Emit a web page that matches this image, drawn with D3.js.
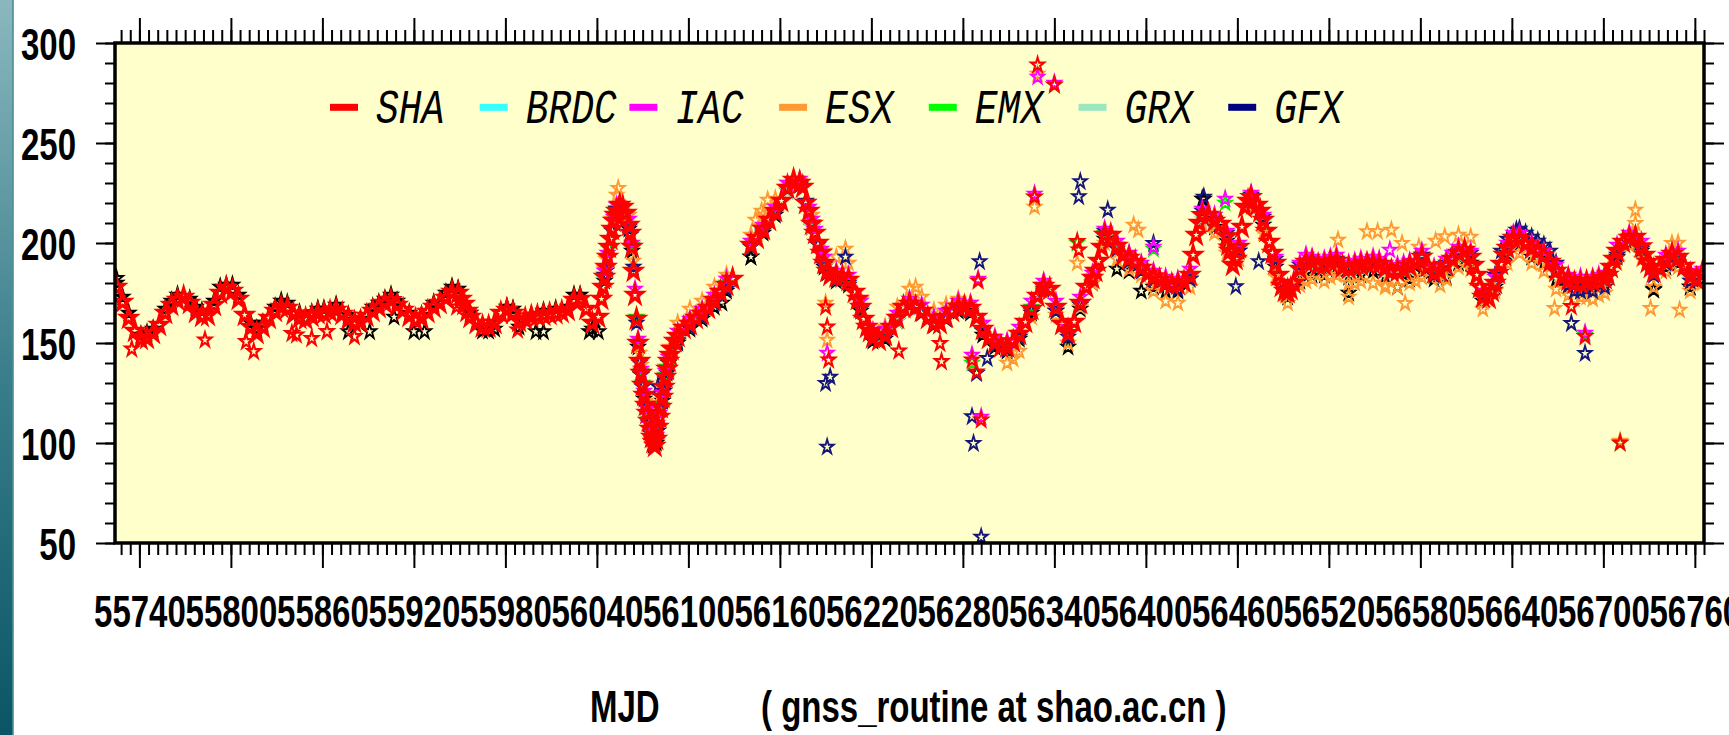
<!DOCTYPE html>
<html>
<head>
<meta charset="utf-8">
<script src="https://cdn.jsdelivr.net/npm/d3@7/dist/d3.min.js"></script>
<style>
html,body{margin:0;padding:0;background:#ffffff;overflow:hidden;}
svg{display:block;}
</style>
</head>
<body>
<svg id="chart" width="1729" height="735"></svg>
<script>
// ================= DATA =================
const seriesNames   = ["SHA", "BRDC", "IAC", "ESX", "EMX", "GRX", "GFX"];
const legendColors  = ["#ff0000", "#33ffff", "#ff00ff", "#ff9933", "#00ff00", "#99e6bf", "#000080"];
const markerColors  = ["#ff0000", "#000000", "#ff00ff", "#ff9933", "#00ee00", "#99e6bf", "#16167a"];

const xMajorTicks = [55740,55800,55860,55920,55980,56040,56100,56160,56220,56280,56340,56400,56460,56520,56580,56640,56700,56760];
const xTickLabels = ["55740","55800","55860","55920","55980","56040","56100","56160","56220","56280","56340","56400","56460","56520","56580","56640","56700","56760"];
const yMajorTicks = [50,100,150,200,250,300];
const yTickLabels = ["50","100","150","200","250","300"];

// SHA: value every 4 days (MJD 55725 ... 56765)
const shaDays = d3.range(55725, 56766, 4);
const shaVals = [
 178,170.5,162.5,156,152,152.5,155,159,165,169,171.5,173,170,165.5,163.5,164,169,175,177.5,176,
 172,164,158,155,158,162.5,166,168,167.5,164.5,162.5,162,163.5,164.8,164.8,165.7,166.5,164.5,162,160.3,
 160.5,163.5,166,168,170,171.3,169,166.5,163.5,161.5,162.5,165.5,168,170,172.5,175.5,175,169.5,163,160,
 158.2,158.2,160,165,166.5,
 165,161,162,163.2,163.5,164,164.5,164.8,165.5,166.5,171.5,172,167,160,163,183,202,216,218,209,
 174,135,115,100.5,113,133,147,153.5,157.5,159.5,162.5,164.5,167.5,171.5,175.5,179,182,null,null,199,
 202.5,207,211.5,216,221,227.5,231.5,230,220,209.5,200,190,184,183.2,183.2,181.5,175.5,168,158,152.8,
 151.5,154,158,162.5,168,
 169.5,168,166,162.5,159.8,159.8,163,166,168,168.2,167.5,163,157,152.5,150.2,148.2,148.2,150.7,154.5,160.5,
 167,173.5,178.5,177,168,159.5,154.8,160.5,170,178,182.5,191,204,204,198.5,194,192.5,190.5,187.5,184.6,
 183.2,181.5,180,179.2,179.5,180.5,184,204,213.8,214,211,209.5,203.2,189,198,218,222.8,219,211.5,200.5,
 190,178.5,175.5,180,
 187,190.5,190.5,189,189,190.3,191,188,187.3,188.2,189,189.7,189.8,189.3,187.5,186,186,186.8,188.5,190,
 193,188.5,185.2,186,188.8,192,195,196.5,193,184,173,172.5,180,189.5,197.5,202.5,202,199.5,197.3,195.8,
 193.7,190.5,186,183,181.5,180,179.8,180.5,180.7,181.2,182.3,188,196,200.5,202.5,203,198.2,190.5,185.5,187.5,
 191.5,194.5,193,188.5,183.5,182,185
];
// extra SHA daily readings on the steep parts
const shaFill = [[56043,172],[56044,178],[56046,188],[56047,193],[56048,198],[56050,207],[56051,211],[56052,214],[56055,219],[56059,215],
 [56062,205],[56063,198],[56064,186],[56066,162],[56067,150],[56068,141],[56070,129],[56071,124],[56072,119],[56074,111],[56075,107],
 [56076,103],[56078,98.5],[56079,102],[56080,108],[56082,118],[56083,123],[56084,128],[56086,137],[56087,141],[56088,144],[56091,151],
 [56175,228],[56179,216],[56183,205],[56187,195],[56191,186],[56211,172],[56215,162],[56219,156],[56367,186],[56371,198],[56431,194],
 [56435,210],[56455,196],[56459,192],[56463,208],[56467,221],[56475,216],[56479,206],[56483,195],[56487,184],[56491,176],[56495,177],
 [56615,189],[56619,178],[56627,176],[56631,185],[56635,194],[56703,184],[56707,192],[56727,194],[56731,188],[55951,172],[55955,166]];
const shaOut = [[55735,147],[55783,151.5],[55810,150.7],[55815,145.7],[55840,154.8],[55843,154],[55853,152.3],[55863,155.7],[55881,153.2],
 [55948,168],[55988,156.5],[56190,168],[56191,158],[56192,141.5],[56238,146],[56266,140.7],[56265,149.8],[56286,141.5],[56289,135.5],
 [56292,111.5],[56290,181],[56329,289],[56340,279],[56327,223],[56355,200.7],[56356,196.5],[56453,198],[56679,168.2],[56688,153.2],[56711,100]];

// BRDC: every 8 days (MJD 55725 ... 56765)
const brdcDays = d3.range(55725, 56766, 8);
const brdcVals = [
 180,165,154,157,167,174,172,166,171,179,174,160,160,168,170,165,165,167,169,164,
 162,168,172,171,165,164,170,175,177,165,156,157,168,158,164,166,167,168,174,157,
 181,217,207,134,99,131,150,157,162,168,176,null,193,205,214,226,229,208,188,181,
 179,166,151,152,161,168,165,159,162,166,165,154,148,146,152,165,176,166,148,167,
 180,202,187,186,176,178,176,176,182,222,208,201,196,221,209,188,173,181,184,184,
 187,183,184,186,183,178,182,186,182,183,190,190,171,178,195,200,193,190,182,178,
 176,177,180,193,200,196,177,188,190,178,182
];
const brdcOut = [[55725,182.3],[55877,155.7],[55891,155.7],[55920,155.7],[55927,155.7],[55907,163],[56000,155.7],[56005,155.7],
 [56035,155.7],[56041,155.7],[56141,193],[56122,170],[56438,222],[56733,176.5],[56757,178],[56533,175],
 [56063,196],[56067,148],[56071,122],[56075,105],[56079,100],[56083,121],[56087,140],
 [55729,173],[55745,155],[55761,171],[55777,168],[55793,178],[55801,179],[55817,157],[55833,171],[55857,167],[55897,170],[55905,174],[55945,178],[55969,156],[55985,167],[56025,174]];

// analysis centres: every 8 days (MJD 56045 ... 56765)
const acDays = d3.range(56045, 56766, 8);
const iacVals = [
 186,219,212,137,102,136,156,162,167,174,182,null,201,209,218,230,232,212,193,186,
 184,171,156,157,165,172,169,163,166,171,170,160,153,151,158,171,181,171,158,173,
 185,207,201,195,190,186,183,182,187,217,214,206,200,225,214,193,178,190,193,192,
 194,190,192,193,190,189,191,196,188,192,198,196,176,183,200,205,200,196,189,184,
 183,183,185,199,205,201,188,194,196,186,187
];
const iacOut = [[56329,283],[56340,280],[56327,224.5],[56191,145],[56286,144],[56292,113],[56290,182],[56405,198],[56452,222],[56560,196.5],[56688,155],
 [56063,200],[56065,177],[56067,152],[56071,126],[56073,117],[56075,109],[56079,104],[56081,115],[56083,125],[56087,143],[56047,195],[56051,213],
 [56179,218],[56183,207],[56187,197],[56505,194],[56521,193],[56537,191],[56553,192],[56569,190],[56601,195],[56641,205],[56697,184]];
const esxVals = [
 187,224,214,139,103,138,160,167,171,178,184,null,204,214,222,230,231,214,196,193,
 190,172,156,158,168,177,173,166,169,172,170,160,149,140,146,163,176,164,150,168,
 180,200,192,187,184,176,171,170,178,210,205,195,192,218,205,183,170,179,182,181,
 184,180,181,180,178,178,180,183,184,182,188,187,167,176,190,195,190,186,177,174,
 173,172,175,190,199,192,178,186,188,176,180
];
const esxOut = [[56054,227.3],[56144,211.5],[56148,216],[56152,221.5],[56080,120],[56190,170],[56191,151.5],[56203,197],[56329,284.5],[56327,218],
 [56355,190],[56392,209],[56395,206.5],[56526,201.5],[56545,205.7],[56552,205.7],[56561,206.5],[56568,199.8],[56579,198],[56590,201],[56596,203.2],
 [56605,204],[56613,203],[56721,216.5],[56721,209.8],[56745,199.8],[56749,200],[56533,173],[56570,169.8],[56668,167.3],[56731,167.3],[56750,166.5],
 [56711,101],[56064,191],[56068,145],[56072,121],[56076,105],[56080,110],[56084,130],[56088,148],[56046,192],[56050,212],
 [56505,181],[56521,183],[56537,180],[56557,179],[56577,181],[56593,179],[56681,172],[56689,173],[56697,174],[56249,178],[56313,142]];
const emxVals = [
 183,215,209,136,100,134,153,160,165,172,180,null,199,207,216,228,230,210,190,183,
 182,168,153,154,163,170,166,160,163,168,167,157,150,148,155,168,179,168,155,170,
 183,205,199,193,188,183,180,180,184,214,212,204,198,223,212,190,176,187,191,189,
 191,187,189,190,188,186,189,194,185,189,195,193,173,180,198,202,197,194,186,181,
 180,181,182,196,203,198,186,191,193,183,185
];
const emxOut = [[56340,279],[56327,223],[56355,200],[56405,197],[56452,220],[56286,140],[56688,154],[56711,100],
 [56063,199],[56066,163],[56070,130],[56074,112],[56078,99],[56082,119],[56086,138],[56048,197],[56181,210]];
const grxVals = [
 182,214,208,134,100,132,152,158,163,170,178,null,198,206,215,226,229,208,189,182,
 180,167,152,153,161,168,165,159,162,167,166,156,149,147,153,166,177,167,154,169,
 181,203,197,191,186,182,179,178,183,212,210,202,197,221,210,189,175,186,189,188,
 190,186,188,189,186,185,187,192,184,188,194,192,172,179,196,201,196,193,185,180,
 179,180,181,195,201,197,184,190,192,182,184
];
const grxOut = [];
const gfxVals = [
 184,217,208,134,99,132,151,158,163,170,177,null,198,206,215,227,229,210,189,182,
 180,167,152,153,162,169,165,159,162,167,166,156,149,147,153,166,177,166,153,169,
 182,206,197,191,186,182,179,177,182,216,212,205,196,224,213,192,177,189,192,190,
 192,188,190,191,188,186,188,194,184,190,196,195,174,184,202,207,203,199,190,179,
 176,176,178,194,203,197,184,190,192,181,184
];
const gfxOut = [[56080,128.2],[56190,129.8],[56193,133],[56191,98],[56203,193],[56291,190.7],[56286,113.2],[56287,99.8],[56292,53],[56289,134.8],
 [56296,142.3],[56357,230.7],[56356,223.2],[56375,216.5],[56405,199.8],[56438,223],[56459,178.2],[56474,190.7],[56643,206.5],[56679,159.8],[56688,144.8],
 [56062,204],[56064,188],[56066,160],[56068,140],[56070,128],[56072,118],[56074,110],[56076,102],[56080,106],[56082,117],[56084,126],[56086,135],
 [56046,186],[56050,206],[56177,221],[56185,199],[56191,185],[56633,196],[56649,205],[56657,201],[56665,196],[56681,176],[56689,177]];

// ================= LAYOUT =================
const W = 1729, H = 735;
const PL = 115, PR = 1704, PT = 43, PB = 543;
const NUM_FONT = "'Liberation Sans', Arial, Helvetica, sans-serif";
const LEG_FONT = "'Liberation Mono', 'DejaVu Sans Mono', monospace";
const VSTRETCH = 1.37;

const svg = d3.select("#chart");
const defs = svg.append("defs");

// left decorative strip
const grad = defs.append("linearGradient").attr("id","strip").attr("x1",0).attr("x2",0).attr("y1",0).attr("y2",1);
grad.append("stop").attr("offset","0%").attr("stop-color","#8ab8be");
grad.append("stop").attr("offset","50%").attr("stop-color","#3b7f8c");
grad.append("stop").attr("offset","100%").attr("stop-color","#0a5565");
svg.append("rect").attr("x",0).attr("y",0).attr("width",13).attr("height",H).attr("fill","url(#strip)");
svg.append("rect").attr("x",12).attr("y",0).attr("width",2).attr("height",H).attr("fill","#4d8c99").attr("opacity",0.8);

defs.append("clipPath").attr("id","plotclip").append("rect")
  .attr("x",PL).attr("y",PT).attr("width",PR-PL).attr("height",PB-PT);

const x = d3.scaleLinear().domain([55724, 56766]).range([PL, PR]);
const y = d3.scaleLinear().domain([50, 300]).range([PB, PT]);

// plot background
svg.append("rect").attr("x",PL).attr("y",PT).attr("width",PR-PL).attr("height",PB-PT).attr("fill","#ffffcc");

// ----- series -----
function pts(days, vals, extra){
  const p = [];
  days.forEach((d,i)=>{ if (vals[i] !== null && vals[i] !== undefined) p.push([d, vals[i]]); });
  return p.concat(extra);
}
const seriesDefs = [
  {name:"BRDC", points: pts(brdcDays, brdcVals, brdcOut), color: markerColors[1], size:52, sw:1.8},
  {name:"GRX",  points: pts(acDays, grxVals, grxOut),     color: markerColors[5], size:52, sw:1.8},
  {name:"ESX",  points: pts(acDays, esxVals, esxOut),     color: markerColors[3], size:52, sw:1.8},
  {name:"EMX",  points: pts(acDays, emxVals, emxOut),     color: markerColors[4], size:52, sw:1.8},
  {name:"GFX",  points: pts(acDays, gfxVals, gfxOut),     color: markerColors[6], size:52, sw:1.8},
  {name:"IAC",  points: pts(acDays, iacVals, iacOut),     color: markerColors[2], size:52, sw:1.8},
  {name:"SHA",  points: pts(shaDays, shaVals, shaFill),   color: markerColors[0], size:68, sw:3.0},
  {name:"SHA",  points: shaOut,                           color: markerColors[0], size:52, sw:2.0}
];
const dataG = svg.append("g").attr("clip-path","url(#plotclip)");
seriesDefs.forEach(s=>{
  const star = d3.symbol().type(d3.symbolStar).size(s.size)();
  dataG.append("g").attr("fill","none").attr("stroke", s.color).attr("stroke-width",s.sw).attr("stroke-linejoin","miter")
    .selectAll("path").data(s.points).join("path")
    .attr("d", star)
    .attr("transform", d=>`translate(${x(d[0]).toFixed(2)},${y(d[1]).toFixed(2)}) scale(1,1.12)`);
});

// ----- axes -----
function styleAxis(g){
  g.select(".domain").remove();
  g.selectAll("line").attr("stroke","#000").attr("stroke-width",2);
}
const xMinorTicks = d3.range(55728, 56767, 6);
const yMinorTicks = d3.range(50, 301, 10);

// bottom
const gbm = svg.append("g").attr("transform",`translate(0,${PB})`)
  .call(d3.axisBottom(x).tickValues(xMinorTicks).tickSize(12).tickFormat(""));
styleAxis(gbm); gbm.selectAll("text").remove();
const gbM = svg.append("g").attr("transform",`translate(0,${PB})`)
  .call(d3.axisBottom(x).tickValues(xMajorTicks).tickSize(25).tickFormat((d,i)=>xTickLabels[i]));
styleAxis(gbM);
gbM.selectAll("text")
  .attr("y",null).attr("dy",null)
  .attr("transform",`translate(0,83.5) scale(1,${VSTRETCH})`)
  .attr("font-family",NUM_FONT).attr("font-size",33).attr("font-weight","bold")
  .attr("fill","#000").attr("text-anchor","middle");

// top
const gtm = svg.append("g").attr("transform",`translate(0,${PT})`)
  .call(d3.axisTop(x).tickValues(xMinorTicks).tickSize(13).tickFormat(""));
styleAxis(gtm); gtm.selectAll("text").remove();
const gtM = svg.append("g").attr("transform",`translate(0,${PT})`)
  .call(d3.axisTop(x).tickValues(xMajorTicks).tickSize(25).tickFormat(""));
styleAxis(gtM); gtM.selectAll("text").remove();

// left
const glm = svg.append("g").attr("transform",`translate(${PL},0)`)
  .call(d3.axisLeft(y).tickValues(yMinorTicks).tickSize(10).tickFormat(""));
styleAxis(glm); glm.selectAll("text").remove();
const glM = svg.append("g").attr("transform",`translate(${PL},0)`)
  .call(d3.axisLeft(y).tickValues(yMajorTicks).tickSize(19).tickFormat((d,i)=>yTickLabels[i]));
styleAxis(glM);
glM.selectAll("text")
  .attr("x",null).attr("dy",null)
  .attr("transform",`translate(-39,16) scale(1,${VSTRETCH})`)
  .attr("font-family",NUM_FONT).attr("font-size",33).attr("font-weight","bold")
  .attr("fill","#000").attr("text-anchor","end");

// right
const grm = svg.append("g").attr("transform",`translate(${PR},0)`)
  .call(d3.axisRight(y).tickValues(yMinorTicks).tickSize(10).tickFormat(""));
styleAxis(grm); grm.selectAll("text").remove();
const grM = svg.append("g").attr("transform",`translate(${PR},0)`)
  .call(d3.axisRight(y).tickValues(yMajorTicks).tickSize(20).tickFormat(""));
styleAxis(grM); grM.selectAll("text").remove();

// frame
svg.append("rect").attr("x",PL).attr("y",PT).attr("width",PR-PL).attr("height",PB-PT)
  .attr("fill","none").attr("stroke","#000").attr("stroke-width",3.5);

// ----- legend -----
const legG = svg.append("g");
seriesNames.forEach((n,i)=>{
  const lx = 330 + 149.7*i;
  legG.append("rect").attr("x",lx).attr("y",103.8).attr("width",28).attr("height",7).attr("fill",legendColors[i]);
  legG.append("text").attr("transform",`translate(${lx+46},122.7) scale(1,1.25)`)
    .attr("font-family",LEG_FONT).attr("font-style","italic").attr("font-size",38)
    .attr("fill","#000").text(n);
});

// ----- title -----
const titleG = svg.append("g").attr("font-family",NUM_FONT).attr("font-size",33).attr("font-weight","bold").attr("fill","#000");
titleG.append("text").attr("transform",`translate(590,722) scale(1,${VSTRETCH})`).text("MJD");
titleG.append("text").attr("transform",`translate(761,722) scale(1,${VSTRETCH})`).text("( gnss_routine at shao.ac.cn )");
</script>
</body>
</html>
